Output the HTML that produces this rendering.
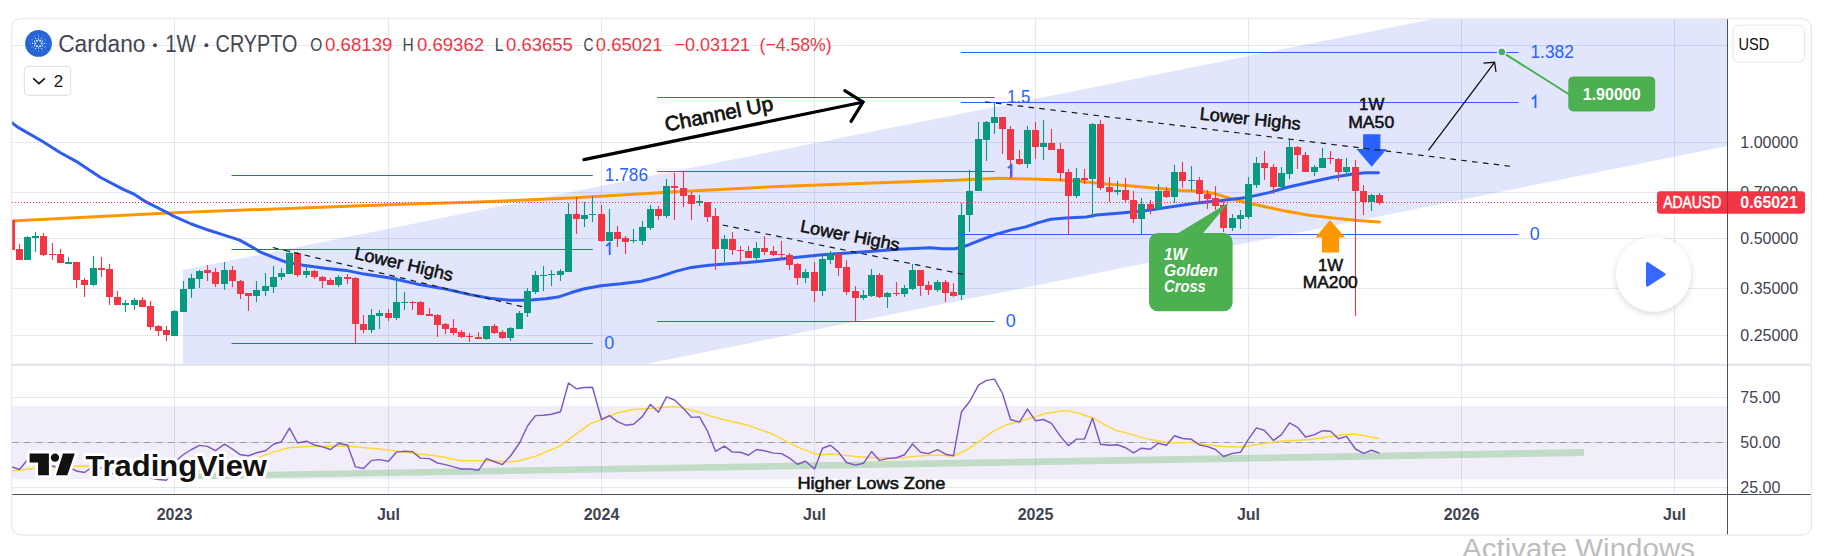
<!DOCTYPE html>
<html><head><meta charset="utf-8"><title>ADAUSD chart</title>
<style>html,body{margin:0;padding:0;background:#fff;}body{width:1842px;height:556px;overflow:hidden;position:relative;font-family:"Liberation Sans",sans-serif;}</style></head>
<body>
<svg width="1842" height="556" viewBox="0 0 1842 556" style="position:absolute;left:0;top:0" font-family="Liberation Sans, sans-serif">
<defs>
<clipPath id="frame"><rect x="11.6" y="18.6" width="1799.8000000000002" height="516.4" rx="9" ry="9"/></clipPath>
<clipPath id="main"><rect x="11.6" y="18.6" width="1715.9" height="346.2"/></clipPath>
<clipPath id="rsi"><rect x="11.6" y="364.8" width="1715.9" height="129.7"/></clipPath>
<filter id="sh" x="-30%" y="-30%" width="160%" height="160%"><feDropShadow dx="0" dy="2" stdDeviation="3.5" flood-color="#000" flood-opacity="0.16"/></filter>
</defs>
<rect x="0" y="0" width="1842" height="556" fill="#fff"/>
<g clip-path="url(#frame)">
<line x1="174.5" y1="18.6" x2="174.5" y2="494.5" stroke="#e1e9f2" stroke-width="1"/>
<line x1="388.5" y1="18.6" x2="388.5" y2="494.5" stroke="#e1e9f2" stroke-width="1"/>
<line x1="601.5" y1="18.6" x2="601.5" y2="494.5" stroke="#e1e9f2" stroke-width="1"/>
<line x1="814.5" y1="18.6" x2="814.5" y2="494.5" stroke="#e1e9f2" stroke-width="1"/>
<line x1="1035.5" y1="18.6" x2="1035.5" y2="494.5" stroke="#e1e9f2" stroke-width="1"/>
<line x1="1248.5" y1="18.6" x2="1248.5" y2="494.5" stroke="#e1e9f2" stroke-width="1"/>
<line x1="1461.5" y1="18.6" x2="1461.5" y2="494.5" stroke="#e1e9f2" stroke-width="1"/>
<line x1="1674.5" y1="18.6" x2="1674.5" y2="494.5" stroke="#e1e9f2" stroke-width="1"/>
<line x1="11.6" y1="45.5" x2="1727.5" y2="45.5" stroke="#e1e9f2" stroke-width="1"/>
<line x1="11.6" y1="142.5" x2="1727.5" y2="142.5" stroke="#e1e9f2" stroke-width="1"/>
<line x1="11.6" y1="192.5" x2="1727.5" y2="192.5" stroke="#e1e9f2" stroke-width="1"/>
<line x1="11.6" y1="238.5" x2="1727.5" y2="238.5" stroke="#e1e9f2" stroke-width="1"/>
<line x1="11.6" y1="288.5" x2="1727.5" y2="288.5" stroke="#e1e9f2" stroke-width="1"/>
<line x1="11.6" y1="335.5" x2="1727.5" y2="335.5" stroke="#e1e9f2" stroke-width="1"/>
<line x1="11.6" y1="397.5" x2="1727.5" y2="397.5" stroke="#e1e9f2" stroke-width="1"/>
<line x1="11.6" y1="442.5" x2="1727.5" y2="442.5" stroke="#e1e9f2" stroke-width="1"/>
<line x1="11.6" y1="487.5" x2="1727.5" y2="487.5" stroke="#e1e9f2" stroke-width="1"/>
<g clip-path="url(#main)">
<polygon points="183,270.0 1732.5,-41.2 1732.5,145.1 183,457.2" fill="#2040f0" fill-opacity="0.13"/>
<line x1="231.6" y1="175.5" x2="592.8" y2="175.5" stroke="#2962ff" stroke-width="1.2"/>
<line x1="231.6" y1="249.5" x2="592.8" y2="249.5" stroke="#2962ff" stroke-width="1.2"/>
<line x1="231.6" y1="343.5" x2="592.8" y2="343.5" stroke="#2962ff" stroke-width="1.2"/>
<text x="604.8" y="181.0" font-size="18" fill="#2962ff" textLength="43.2" lengthAdjust="spacingAndGlyphs">1.786</text>
<path d="M606.1,246.1 L609.7,243.0 L609.7,255.0" fill="none" stroke="#2962ff" stroke-width="1.8" stroke-linejoin="miter"/>
<text x="604.3" y="349.0" font-size="18" fill="#2962ff">0</text>
<path d="M11.0,220.9 L173.6,212.7 L261.8,209.4 L387.6,204.7 L470.0,202.3 L570.7,198.1 L671.4,192.1 L772.1,186.8 L872.8,183.0 L930.0,181.0 L955.2,180.3 L980.4,179.0 L1000.5,178.3 L1030.7,179.0 L1055.9,179.8 L1081.1,181.5 L1106.2,184.1 L1131.4,186.1 L1156.6,188.3 L1181.8,190.4 L1201.9,191.6 L1214.5,193.6 L1227.1,197.4 L1242.2,201.7 L1257.3,205.0 L1282.5,210.5 L1307.6,215.0 L1332.8,218.0 L1358.0,220.6 L1379.4,222.1" fill="none" stroke="#ff9800" stroke-width="3" stroke-linejoin="round" stroke-linecap="round"/>
<path d="M11.0,122.0 L17.6,127.1 L42.7,141.5 L60.4,152.8 L78.0,162.4 L100.6,177.5 L123.3,189.3 L133.4,193.8 L146.0,201.9 L166.1,212.0 L173.6,216.2 L191.3,224.0 L208.9,230.3 L226.5,235.9 L239.1,239.9 L255.5,249.0 L260.0,251.9 L273.0,257.1 L286.0,262.1 L303.0,265.2 L325.1,268.2 L346.0,270.4 L364.2,274.1 L390.3,278.0 L416.4,283.9 L442.4,288.4 L470.0,294.6 L490.0,298.3 L510.3,300.3 L527.9,300.3 L545.5,298.8 L558.0,297.1 L570.7,292.8 L583.3,289.0 L600.9,285.7 L621.0,283.7 L641.2,281.2 L658.8,276.9 L676.4,271.1 L691.5,267.4 L706.6,265.6 L721.7,264.3 L746.9,262.6 L772.1,260.1 L797.3,257.3 L822.5,254.8 L847.6,253.0 L872.8,251.2 L898.0,249.2 L930.0,247.8 L942.6,248.8 L955.2,248.8 L967.8,245.2 L980.4,240.2 L995.5,234.4 L1010.6,230.1 L1025.7,226.9 L1038.3,222.6 L1050.8,219.3 L1065.9,218.0 L1086.1,217.0 L1096.2,215.0 L1121.3,213.0 L1146.5,210.5 L1171.7,206.7 L1196.9,202.9 L1222.0,200.4 L1247.2,197.4 L1269.9,192.4 L1287.5,187.3 L1307.6,182.8 L1332.8,177.3 L1353.0,174.0 L1365.5,172.7 L1378.4,172.7" fill="none" stroke="#2f5cf0" stroke-width="3" stroke-linejoin="round" stroke-linecap="round"/>
<rect x="10.95" y="220" width="1.1" height="30" fill="#f23645"/>
<rect x="8.0" y="220" width="7" height="30" fill="#f23645"/>
<rect x="18.95" y="244" width="1.1" height="16" fill="#f23645"/>
<rect x="16.0" y="249" width="7" height="11" fill="#f23645"/>
<rect x="26.95" y="236" width="1.1" height="24" fill="#089981"/>
<rect x="24.0" y="237" width="7" height="23" fill="#089981"/>
<rect x="34.95" y="232" width="1.1" height="20" fill="#089981"/>
<rect x="32.0" y="236" width="7" height="2" fill="#089981"/>
<rect x="42.95" y="233" width="1.1" height="23" fill="#f23645"/>
<rect x="40.0" y="236" width="7" height="19" fill="#f23645"/>
<rect x="51.95" y="243" width="1.1" height="17" fill="#f23645"/>
<rect x="49.0" y="254" width="7" height="1" fill="#f23645"/>
<rect x="59.95" y="249" width="1.1" height="14" fill="#f23645"/>
<rect x="57.0" y="254" width="7" height="9" fill="#f23645"/>
<rect x="67.95" y="257" width="1.1" height="7" fill="#089981"/>
<rect x="65.0" y="262" width="7" height="2" fill="#089981"/>
<rect x="75.95" y="262" width="1.1" height="26" fill="#f23645"/>
<rect x="73.0" y="262" width="7" height="18" fill="#f23645"/>
<rect x="83.95" y="278" width="1.1" height="19" fill="#f23645"/>
<rect x="81.0" y="280" width="7" height="5" fill="#f23645"/>
<rect x="92.95" y="256" width="1.1" height="30" fill="#089981"/>
<rect x="90.0" y="268" width="7" height="17" fill="#089981"/>
<rect x="100.95" y="257" width="1.1" height="20" fill="#f23645"/>
<rect x="98.0" y="268" width="7" height="2" fill="#f23645"/>
<rect x="108.95" y="264" width="1.1" height="41" fill="#f23645"/>
<rect x="106.0" y="269" width="7" height="28" fill="#f23645"/>
<rect x="116.95" y="291" width="1.1" height="14" fill="#f23645"/>
<rect x="114.0" y="297" width="7" height="8" fill="#f23645"/>
<rect x="124.95" y="300" width="1.1" height="12" fill="#089981"/>
<rect x="122.0" y="303" width="7" height="2" fill="#089981"/>
<rect x="133.95" y="298" width="1.1" height="12" fill="#089981"/>
<rect x="131.0" y="300" width="7" height="5" fill="#089981"/>
<rect x="141.95" y="297" width="1.1" height="10" fill="#f23645"/>
<rect x="139.0" y="300" width="7" height="7" fill="#f23645"/>
<rect x="149.95" y="301" width="1.1" height="29" fill="#f23645"/>
<rect x="147.0" y="306" width="7" height="21" fill="#f23645"/>
<rect x="157.95" y="325" width="1.1" height="11" fill="#f23645"/>
<rect x="155.0" y="326" width="7" height="5" fill="#f23645"/>
<rect x="165.95" y="326" width="1.1" height="15" fill="#f23645"/>
<rect x="163.0" y="330" width="7" height="5" fill="#f23645"/>
<rect x="173.95" y="310" width="1.1" height="26" fill="#089981"/>
<rect x="171.0" y="311" width="7" height="25" fill="#089981"/>
<rect x="182.95" y="281" width="1.1" height="31" fill="#089981"/>
<rect x="180.0" y="289" width="7" height="23" fill="#089981"/>
<rect x="190.95" y="274" width="1.1" height="24" fill="#089981"/>
<rect x="188.0" y="278" width="7" height="11" fill="#089981"/>
<rect x="198.95" y="270" width="1.1" height="18" fill="#089981"/>
<rect x="196.0" y="271" width="7" height="8" fill="#089981"/>
<rect x="206.95" y="265" width="1.1" height="16" fill="#f23645"/>
<rect x="204.0" y="270" width="7" height="3" fill="#f23645"/>
<rect x="214.95" y="268" width="1.1" height="19" fill="#f23645"/>
<rect x="212.0" y="272" width="7" height="12" fill="#f23645"/>
<rect x="223.95" y="262" width="1.1" height="28" fill="#089981"/>
<rect x="221.0" y="270" width="7" height="14" fill="#089981"/>
<rect x="231.95" y="266" width="1.1" height="21" fill="#f23645"/>
<rect x="229.0" y="270" width="7" height="11" fill="#f23645"/>
<rect x="239.95" y="280" width="1.1" height="19" fill="#f23645"/>
<rect x="237.0" y="281" width="7" height="13" fill="#f23645"/>
<rect x="247.95" y="293" width="1.1" height="18" fill="#f23645"/>
<rect x="245.0" y="293" width="7" height="3" fill="#f23645"/>
<rect x="255.95" y="281" width="1.1" height="21" fill="#089981"/>
<rect x="253.0" y="290" width="7" height="6" fill="#089981"/>
<rect x="264.95" y="273" width="1.1" height="23" fill="#089981"/>
<rect x="262.0" y="286" width="7" height="5" fill="#089981"/>
<rect x="272.95" y="266" width="1.1" height="27" fill="#089981"/>
<rect x="270.0" y="277" width="7" height="10" fill="#089981"/>
<rect x="280.95" y="268" width="1.1" height="12" fill="#089981"/>
<rect x="278.0" y="273" width="7" height="4" fill="#089981"/>
<rect x="288.95" y="250" width="1.1" height="24" fill="#089981"/>
<rect x="286.0" y="253" width="7" height="21" fill="#089981"/>
<rect x="296.95" y="252" width="1.1" height="25" fill="#f23645"/>
<rect x="294.0" y="253" width="7" height="22" fill="#f23645"/>
<rect x="305.95" y="264" width="1.1" height="14" fill="#089981"/>
<rect x="303.0" y="271" width="7" height="4" fill="#089981"/>
<rect x="313.95" y="270" width="1.1" height="9" fill="#f23645"/>
<rect x="311.0" y="271" width="7" height="6" fill="#f23645"/>
<rect x="321.95" y="276" width="1.1" height="12" fill="#f23645"/>
<rect x="319.0" y="277" width="7" height="4" fill="#f23645"/>
<rect x="329.95" y="278" width="1.1" height="7" fill="#f23645"/>
<rect x="327.0" y="280" width="7" height="5" fill="#f23645"/>
<rect x="337.95" y="275" width="1.1" height="12" fill="#089981"/>
<rect x="335.0" y="277" width="7" height="8" fill="#089981"/>
<rect x="346.95" y="274" width="1.1" height="10" fill="#f23645"/>
<rect x="344.0" y="277" width="7" height="2" fill="#f23645"/>
<rect x="354.95" y="277" width="1.1" height="66" fill="#f23645"/>
<rect x="352.0" y="278" width="7" height="46" fill="#f23645"/>
<rect x="362.95" y="315" width="1.1" height="18" fill="#f23645"/>
<rect x="360.0" y="324" width="7" height="6" fill="#f23645"/>
<rect x="370.95" y="309" width="1.1" height="24" fill="#089981"/>
<rect x="368.0" y="315" width="7" height="15" fill="#089981"/>
<rect x="378.95" y="310" width="1.1" height="19" fill="#089981"/>
<rect x="376.0" y="313" width="7" height="3" fill="#089981"/>
<rect x="387.95" y="309" width="1.1" height="12" fill="#f23645"/>
<rect x="385.0" y="313" width="7" height="5" fill="#f23645"/>
<rect x="395.95" y="277" width="1.1" height="43" fill="#089981"/>
<rect x="393.0" y="302" width="7" height="16" fill="#089981"/>
<rect x="403.95" y="292" width="1.1" height="18" fill="#089981"/>
<rect x="401.0" y="302" width="7" height="1" fill="#089981"/>
<rect x="411.95" y="301" width="1.1" height="9" fill="#f23645"/>
<rect x="409.0" y="302" width="7" height="1" fill="#f23645"/>
<rect x="419.95" y="301" width="1.1" height="14" fill="#f23645"/>
<rect x="417.0" y="302" width="7" height="13" fill="#f23645"/>
<rect x="428.95" y="308" width="1.1" height="8" fill="#f23645"/>
<rect x="426.0" y="314" width="7" height="2" fill="#f23645"/>
<rect x="436.95" y="314" width="1.1" height="23" fill="#f23645"/>
<rect x="434.0" y="315" width="7" height="10" fill="#f23645"/>
<rect x="444.95" y="323" width="1.1" height="11" fill="#f23645"/>
<rect x="442.0" y="324" width="7" height="5" fill="#f23645"/>
<rect x="452.95" y="319" width="1.1" height="16" fill="#f23645"/>
<rect x="450.0" y="328" width="7" height="5" fill="#f23645"/>
<rect x="460.95" y="330" width="1.1" height="8" fill="#f23645"/>
<rect x="458.0" y="332" width="7" height="5" fill="#f23645"/>
<rect x="468.95" y="333" width="1.1" height="9" fill="#f23645"/>
<rect x="466.0" y="336" width="7" height="1" fill="#f23645"/>
<rect x="477.95" y="332" width="1.1" height="7" fill="#f23645"/>
<rect x="475.0" y="337" width="7" height="2" fill="#f23645"/>
<rect x="485.95" y="326" width="1.1" height="14" fill="#089981"/>
<rect x="483.0" y="326" width="7" height="13" fill="#089981"/>
<rect x="493.95" y="324" width="1.1" height="10" fill="#f23645"/>
<rect x="491.0" y="326" width="7" height="7" fill="#f23645"/>
<rect x="501.95" y="330" width="1.1" height="9" fill="#f23645"/>
<rect x="499.0" y="332" width="7" height="6" fill="#f23645"/>
<rect x="509.95" y="327" width="1.1" height="14" fill="#089981"/>
<rect x="507.0" y="328" width="7" height="10" fill="#089981"/>
<rect x="518.95" y="311" width="1.1" height="18" fill="#089981"/>
<rect x="516.0" y="313" width="7" height="16" fill="#089981"/>
<rect x="526.95" y="288" width="1.1" height="29" fill="#089981"/>
<rect x="524.0" y="291" width="7" height="22" fill="#089981"/>
<rect x="534.95" y="271" width="1.1" height="23" fill="#089981"/>
<rect x="532.0" y="275" width="7" height="17" fill="#089981"/>
<rect x="542.95" y="266" width="1.1" height="25" fill="#089981"/>
<rect x="540.0" y="275" width="7" height="1" fill="#089981"/>
<rect x="550.95" y="270" width="1.1" height="16" fill="#089981"/>
<rect x="548.0" y="274" width="7" height="1" fill="#089981"/>
<rect x="559.95" y="269" width="1.1" height="12" fill="#089981"/>
<rect x="557.0" y="271" width="7" height="4" fill="#089981"/>
<rect x="567.95" y="203" width="1.1" height="69" fill="#089981"/>
<rect x="565.0" y="214" width="7" height="58" fill="#089981"/>
<rect x="575.95" y="197" width="1.1" height="37" fill="#f23645"/>
<rect x="573.0" y="214" width="7" height="5" fill="#f23645"/>
<rect x="583.95" y="202" width="1.1" height="25" fill="#089981"/>
<rect x="581.0" y="215" width="7" height="4" fill="#089981"/>
<rect x="591.95" y="196" width="1.1" height="26" fill="#089981"/>
<rect x="589.0" y="214" width="7" height="1" fill="#089981"/>
<rect x="600.95" y="205" width="1.1" height="37" fill="#f23645"/>
<rect x="598.0" y="214" width="7" height="27" fill="#f23645"/>
<rect x="608.95" y="209" width="1.1" height="32" fill="#089981"/>
<rect x="606.0" y="232" width="7" height="9" fill="#089981"/>
<rect x="616.95" y="226" width="1.1" height="21" fill="#f23645"/>
<rect x="614.0" y="232" width="7" height="7" fill="#f23645"/>
<rect x="624.95" y="236" width="1.1" height="18" fill="#f23645"/>
<rect x="622.0" y="238" width="7" height="4" fill="#f23645"/>
<rect x="632.95" y="229" width="1.1" height="14" fill="#089981"/>
<rect x="630.0" y="240" width="7" height="1" fill="#089981"/>
<rect x="641.95" y="221" width="1.1" height="24" fill="#089981"/>
<rect x="639.0" y="227" width="7" height="14" fill="#089981"/>
<rect x="649.95" y="205" width="1.1" height="25" fill="#089981"/>
<rect x="647.0" y="209" width="7" height="19" fill="#089981"/>
<rect x="657.95" y="206" width="1.1" height="14" fill="#f23645"/>
<rect x="655.0" y="209" width="7" height="7" fill="#f23645"/>
<rect x="665.95" y="179" width="1.1" height="39" fill="#089981"/>
<rect x="663.0" y="186" width="7" height="30" fill="#089981"/>
<rect x="673.95" y="173" width="1.1" height="47" fill="#f23645"/>
<rect x="671.0" y="186" width="7" height="2" fill="#f23645"/>
<rect x="682.95" y="172" width="1.1" height="35" fill="#f23645"/>
<rect x="680.0" y="188" width="7" height="8" fill="#f23645"/>
<rect x="690.95" y="192" width="1.1" height="28" fill="#f23645"/>
<rect x="688.0" y="195" width="7" height="9" fill="#f23645"/>
<rect x="698.95" y="195" width="1.1" height="11" fill="#089981"/>
<rect x="696.0" y="201" width="7" height="2" fill="#089981"/>
<rect x="706.95" y="202" width="1.1" height="20" fill="#f23645"/>
<rect x="704.0" y="202" width="7" height="15" fill="#f23645"/>
<rect x="714.95" y="208" width="1.1" height="62" fill="#f23645"/>
<rect x="712.0" y="216" width="7" height="33" fill="#f23645"/>
<rect x="723.95" y="235" width="1.1" height="27" fill="#089981"/>
<rect x="721.0" y="239" width="7" height="10" fill="#089981"/>
<rect x="731.95" y="232" width="1.1" height="23" fill="#f23645"/>
<rect x="729.0" y="239" width="7" height="11" fill="#f23645"/>
<rect x="739.95" y="246" width="1.1" height="17" fill="#f23645"/>
<rect x="737.0" y="250" width="7" height="1" fill="#f23645"/>
<rect x="747.95" y="246" width="1.1" height="12" fill="#f23645"/>
<rect x="745.0" y="251" width="7" height="7" fill="#f23645"/>
<rect x="755.95" y="242" width="1.1" height="19" fill="#089981"/>
<rect x="753.0" y="248" width="7" height="10" fill="#089981"/>
<rect x="763.95" y="236" width="1.1" height="19" fill="#f23645"/>
<rect x="761.0" y="248" width="7" height="4" fill="#f23645"/>
<rect x="772.95" y="246" width="1.1" height="10" fill="#f23645"/>
<rect x="770.0" y="251" width="7" height="4" fill="#f23645"/>
<rect x="780.95" y="241" width="1.1" height="19" fill="#f23645"/>
<rect x="778.0" y="254" width="7" height="1" fill="#f23645"/>
<rect x="788.95" y="253" width="1.1" height="17" fill="#f23645"/>
<rect x="786.0" y="255" width="7" height="10" fill="#f23645"/>
<rect x="796.95" y="263" width="1.1" height="22" fill="#f23645"/>
<rect x="794.0" y="264" width="7" height="14" fill="#f23645"/>
<rect x="804.95" y="269" width="1.1" height="14" fill="#089981"/>
<rect x="802.0" y="272" width="7" height="6" fill="#089981"/>
<rect x="813.95" y="262" width="1.1" height="40" fill="#f23645"/>
<rect x="811.0" y="272" width="7" height="19" fill="#f23645"/>
<rect x="821.95" y="255" width="1.1" height="41" fill="#089981"/>
<rect x="819.0" y="259" width="7" height="32" fill="#089981"/>
<rect x="829.95" y="251" width="1.1" height="13" fill="#089981"/>
<rect x="827.0" y="254" width="7" height="6" fill="#089981"/>
<rect x="837.95" y="253" width="1.1" height="23" fill="#f23645"/>
<rect x="835.0" y="254" width="7" height="14" fill="#f23645"/>
<rect x="845.95" y="260" width="1.1" height="35" fill="#f23645"/>
<rect x="843.0" y="267" width="7" height="25" fill="#f23645"/>
<rect x="854.95" y="286" width="1.1" height="35" fill="#f23645"/>
<rect x="852.0" y="291" width="7" height="7" fill="#f23645"/>
<rect x="862.95" y="290" width="1.1" height="10" fill="#089981"/>
<rect x="860.0" y="295" width="7" height="3" fill="#089981"/>
<rect x="870.95" y="269" width="1.1" height="28" fill="#089981"/>
<rect x="868.0" y="275" width="7" height="21" fill="#089981"/>
<rect x="878.95" y="273" width="1.1" height="25" fill="#f23645"/>
<rect x="876.0" y="275" width="7" height="22" fill="#f23645"/>
<rect x="886.95" y="292" width="1.1" height="16" fill="#089981"/>
<rect x="884.0" y="293" width="7" height="4" fill="#089981"/>
<rect x="895.95" y="282" width="1.1" height="14" fill="#f23645"/>
<rect x="893.0" y="293" width="7" height="1" fill="#f23645"/>
<rect x="903.95" y="285" width="1.1" height="12" fill="#089981"/>
<rect x="901.0" y="288" width="7" height="6" fill="#089981"/>
<rect x="911.95" y="264" width="1.1" height="26" fill="#089981"/>
<rect x="909.0" y="270" width="7" height="19" fill="#089981"/>
<rect x="919.95" y="270" width="1.1" height="26" fill="#f23645"/>
<rect x="917.0" y="270" width="7" height="16" fill="#f23645"/>
<rect x="927.95" y="281" width="1.1" height="14" fill="#f23645"/>
<rect x="925.0" y="285" width="7" height="5" fill="#f23645"/>
<rect x="936.95" y="280" width="1.1" height="12" fill="#089981"/>
<rect x="934.0" y="282" width="7" height="8" fill="#089981"/>
<rect x="944.95" y="280" width="1.1" height="22" fill="#f23645"/>
<rect x="942.0" y="282" width="7" height="11" fill="#f23645"/>
<rect x="952.95" y="283" width="1.1" height="14" fill="#f23645"/>
<rect x="950.0" y="292" width="7" height="4" fill="#f23645"/>
<rect x="960.95" y="203" width="1.1" height="97" fill="#089981"/>
<rect x="958.0" y="215" width="7" height="80" fill="#089981"/>
<rect x="968.95" y="170" width="1.1" height="62" fill="#089981"/>
<rect x="966.0" y="191" width="7" height="24" fill="#089981"/>
<rect x="977.95" y="122" width="1.1" height="69" fill="#089981"/>
<rect x="975.0" y="139" width="7" height="52" fill="#089981"/>
<rect x="985.95" y="121" width="1.1" height="40" fill="#089981"/>
<rect x="983.0" y="122" width="7" height="18" fill="#089981"/>
<rect x="993.95" y="102" width="1.1" height="32" fill="#089981"/>
<rect x="991.0" y="117" width="7" height="6" fill="#089981"/>
<rect x="1001.95" y="117" width="1.1" height="37" fill="#f23645"/>
<rect x="999.0" y="117" width="7" height="12" fill="#f23645"/>
<rect x="1009.95" y="126" width="1.1" height="53" fill="#f23645"/>
<rect x="1007.0" y="129" width="7" height="31" fill="#f23645"/>
<rect x="1018.95" y="150" width="1.1" height="15" fill="#f23645"/>
<rect x="1016.0" y="159" width="7" height="5" fill="#f23645"/>
<rect x="1026.95" y="126" width="1.1" height="42" fill="#089981"/>
<rect x="1024.0" y="130" width="7" height="34" fill="#089981"/>
<rect x="1034.95" y="122" width="1.1" height="37" fill="#f23645"/>
<rect x="1032.0" y="130" width="7" height="17" fill="#f23645"/>
<rect x="1042.95" y="120" width="1.1" height="40" fill="#089981"/>
<rect x="1040.0" y="143" width="7" height="4" fill="#089981"/>
<rect x="1050.95" y="129" width="1.1" height="21" fill="#f23645"/>
<rect x="1048.0" y="143" width="7" height="7" fill="#f23645"/>
<rect x="1059.95" y="143" width="1.1" height="38" fill="#f23645"/>
<rect x="1057.0" y="149" width="7" height="24" fill="#f23645"/>
<rect x="1067.95" y="169" width="1.1" height="65" fill="#f23645"/>
<rect x="1065.0" y="172" width="7" height="24" fill="#f23645"/>
<rect x="1075.95" y="168" width="1.1" height="30" fill="#089981"/>
<rect x="1073.0" y="178" width="7" height="18" fill="#089981"/>
<rect x="1083.95" y="169" width="1.1" height="15" fill="#f23645"/>
<rect x="1081.0" y="178" width="7" height="2" fill="#f23645"/>
<rect x="1091.95" y="123" width="1.1" height="95" fill="#089981"/>
<rect x="1089.0" y="124" width="7" height="55" fill="#089981"/>
<rect x="1099.95" y="120" width="1.1" height="70" fill="#f23645"/>
<rect x="1097.0" y="124" width="7" height="64" fill="#f23645"/>
<rect x="1108.95" y="177" width="1.1" height="25" fill="#f23645"/>
<rect x="1106.0" y="187" width="7" height="5" fill="#f23645"/>
<rect x="1116.95" y="181" width="1.1" height="14" fill="#089981"/>
<rect x="1114.0" y="190" width="7" height="2" fill="#089981"/>
<rect x="1124.95" y="178" width="1.1" height="24" fill="#f23645"/>
<rect x="1122.0" y="190" width="7" height="10" fill="#f23645"/>
<rect x="1132.95" y="191" width="1.1" height="32" fill="#f23645"/>
<rect x="1130.0" y="200" width="7" height="19" fill="#f23645"/>
<rect x="1140.95" y="198" width="1.1" height="36" fill="#089981"/>
<rect x="1138.0" y="204" width="7" height="15" fill="#089981"/>
<rect x="1149.95" y="200" width="1.1" height="14" fill="#f23645"/>
<rect x="1147.0" y="204" width="7" height="5" fill="#f23645"/>
<rect x="1157.95" y="184" width="1.1" height="26" fill="#089981"/>
<rect x="1155.0" y="191" width="7" height="18" fill="#089981"/>
<rect x="1165.95" y="187" width="1.1" height="11" fill="#f23645"/>
<rect x="1163.0" y="191" width="7" height="6" fill="#f23645"/>
<rect x="1173.95" y="165" width="1.1" height="38" fill="#089981"/>
<rect x="1171.0" y="172" width="7" height="25" fill="#089981"/>
<rect x="1181.95" y="162" width="1.1" height="26" fill="#f23645"/>
<rect x="1179.0" y="172" width="7" height="9" fill="#f23645"/>
<rect x="1190.95" y="166" width="1.1" height="25" fill="#089981"/>
<rect x="1188.0" y="180" width="7" height="1" fill="#089981"/>
<rect x="1198.95" y="177" width="1.1" height="25" fill="#f23645"/>
<rect x="1196.0" y="180" width="7" height="14" fill="#f23645"/>
<rect x="1206.95" y="190" width="1.1" height="19" fill="#f23645"/>
<rect x="1204.0" y="194" width="7" height="5" fill="#f23645"/>
<rect x="1214.95" y="186" width="1.1" height="24" fill="#f23645"/>
<rect x="1212.0" y="198" width="7" height="8" fill="#f23645"/>
<rect x="1222.95" y="200" width="1.1" height="32" fill="#f23645"/>
<rect x="1220.0" y="205" width="7" height="23" fill="#f23645"/>
<rect x="1231.95" y="214" width="1.1" height="17" fill="#089981"/>
<rect x="1229.0" y="218" width="7" height="10" fill="#089981"/>
<rect x="1239.95" y="210" width="1.1" height="19" fill="#089981"/>
<rect x="1237.0" y="215" width="7" height="4" fill="#089981"/>
<rect x="1247.95" y="177" width="1.1" height="42" fill="#089981"/>
<rect x="1245.0" y="184" width="7" height="33" fill="#089981"/>
<rect x="1255.95" y="157" width="1.1" height="31" fill="#089981"/>
<rect x="1253.0" y="163" width="7" height="22" fill="#089981"/>
<rect x="1263.95" y="151" width="1.1" height="29" fill="#f23645"/>
<rect x="1261.0" y="163" width="7" height="5" fill="#f23645"/>
<rect x="1272.95" y="164" width="1.1" height="30" fill="#f23645"/>
<rect x="1270.0" y="167" width="7" height="20" fill="#f23645"/>
<rect x="1280.95" y="167" width="1.1" height="22" fill="#089981"/>
<rect x="1278.0" y="173" width="7" height="14" fill="#089981"/>
<rect x="1288.95" y="139" width="1.1" height="40" fill="#089981"/>
<rect x="1286.0" y="147" width="7" height="27" fill="#089981"/>
<rect x="1296.95" y="146" width="1.1" height="23" fill="#f23645"/>
<rect x="1294.0" y="147" width="7" height="8" fill="#f23645"/>
<rect x="1304.95" y="152" width="1.1" height="20" fill="#f23645"/>
<rect x="1302.0" y="155" width="7" height="17" fill="#f23645"/>
<rect x="1313.95" y="165" width="1.1" height="11" fill="#089981"/>
<rect x="1311.0" y="167" width="7" height="5" fill="#089981"/>
<rect x="1321.95" y="148" width="1.1" height="20" fill="#089981"/>
<rect x="1319.0" y="158" width="7" height="10" fill="#089981"/>
<rect x="1329.95" y="151" width="1.1" height="13" fill="#f23645"/>
<rect x="1327.0" y="158" width="7" height="1" fill="#f23645"/>
<rect x="1337.95" y="158" width="1.1" height="23" fill="#f23645"/>
<rect x="1335.0" y="159" width="7" height="13" fill="#f23645"/>
<rect x="1345.95" y="158" width="1.1" height="19" fill="#089981"/>
<rect x="1343.0" y="167" width="7" height="5" fill="#089981"/>
<rect x="1354.95" y="160" width="1.1" height="156" fill="#f23645"/>
<rect x="1352.0" y="167" width="7" height="24" fill="#f23645"/>
<rect x="1362.95" y="185" width="1.1" height="30" fill="#f23645"/>
<rect x="1360.0" y="191" width="7" height="11" fill="#f23645"/>
<rect x="1370.95" y="194" width="1.1" height="17" fill="#089981"/>
<rect x="1368.0" y="195" width="7" height="7" fill="#089981"/>
<rect x="1378.95" y="193" width="1.1" height="12" fill="#f23645"/>
<rect x="1376.0" y="195" width="7" height="8" fill="#f23645"/>
<line x1="12" y1="202.5" x2="1660" y2="202.5" stroke="#f23645" stroke-width="1" stroke-dasharray="1 2" shape-rendering="crispEdges"/>
<line x1="657.1" y1="97.5" x2="994.6" y2="97.5" stroke="#2962ff" stroke-width="1.2"/>
<line x1="657.1" y1="171.5" x2="994.6" y2="171.5" stroke="#2962ff" stroke-width="1.2"/>
<line x1="657.1" y1="321.5" x2="994.6" y2="321.5" stroke="#2962ff" stroke-width="1.2"/>
<line x1="960.8" y1="52.5" x2="1518.5" y2="52.5" stroke="#2962ff" stroke-width="1.2"/>
<line x1="960.8" y1="102.5" x2="1518.5" y2="102.5" stroke="#2962ff" stroke-width="1.2"/>
<line x1="960.8" y1="234.5" x2="1518.5" y2="234.5" stroke="#2962ff" stroke-width="1.2"/>
<text x="1007" y="103.0" font-size="18" fill="#2962ff" textLength="23.5" lengthAdjust="spacingAndGlyphs">1.5</text>
<path d="M1007.9,168.1 L1011.5,165.0 L1011.5,177.0" fill="none" stroke="#2962ff" stroke-width="1.8" stroke-linejoin="miter"/>
<text x="1005.8" y="327.0" font-size="18" fill="#2962ff">0</text>
<text x="1530.5" y="58.0" font-size="18" fill="#2962ff" textLength="43.3" lengthAdjust="spacingAndGlyphs">1.382</text>
<path d="M1531.9,99.1 L1535.5,96.0 L1535.5,108.0" fill="none" stroke="#2962ff" stroke-width="1.8" stroke-linejoin="miter"/>
<text x="1529.8" y="240.0" font-size="18" fill="#2962ff">0</text>
<text transform="translate(353.7,258.4) rotate(13)" font-size="17.5" font-weight="400" fill="#111" stroke="#111" stroke-width="0.55" letter-spacing="0" textLength="100.5" lengthAdjust="spacingAndGlyphs">Lower Highs</text>
<text transform="translate(799.4,231.6) rotate(11)" font-size="17.5" font-weight="400" fill="#111" stroke="#111" stroke-width="0.55" letter-spacing="0" textLength="101" lengthAdjust="spacingAndGlyphs">Lower Highs</text>
<text transform="translate(1199.2,119.5) rotate(5.9)" font-size="17.5" font-weight="400" fill="#111" stroke="#111" stroke-width="0.55" letter-spacing="0" textLength="101.5" lengthAdjust="spacingAndGlyphs">Lower Highs</text>
<text transform="translate(666.3,131.4) rotate(-11.2)" font-size="20.5" font-weight="400" fill="#111" stroke="#111" stroke-width="0.7" letter-spacing="0" textLength="110" lengthAdjust="spacingAndGlyphs">Channel Up</text>
<path d="M583.9,159.6 L862.5,102.2" stroke="#000" stroke-width="3.2" stroke-linecap="round" fill="none"/>
<path d="M844.8,90.6 L863,102.1 L851.1,121.3" stroke="#000" stroke-width="3.2" stroke-linecap="round" stroke-linejoin="miter" fill="none"/>
<path d="M1428.4,150.4 L1494.6,62.3" stroke="#111" stroke-width="1.3" fill="none"/>
<path d="M1483.4,63.2 L1494.6,62.3 L1496,71.8" stroke="#111" stroke-width="1.3" fill="none"/>
<text x="1371.7" y="109.8" font-size="16.8" fill="#111" stroke="#111" stroke-width="0.55" text-anchor="middle">1W</text>
<text x="1371.2" y="127.9" font-size="16.8" fill="#111" stroke="#111" stroke-width="0.55" text-anchor="middle" textLength="46" lengthAdjust="spacingAndGlyphs">MA50</text>
<polygon points="1363.1,134.2 1380.4,134.2 1380.4,148.9 1386.7,148.9 1371.7,166.8 1356.5,148.9 1363.1,148.9" fill="#2962ff"/>
<polygon points="1330,219.9 1345.3,237.5 1339,237.5 1339,252.4 1321.9,252.4 1321.9,237.5 1315.4,237.5" fill="#ff9800"/>
<text x="1330.5" y="270.6" font-size="16.8" fill="#111" stroke="#111" stroke-width="0.55" text-anchor="middle">1W</text>
<text x="1330.2" y="288.3" font-size="16.8" fill="#111" stroke="#111" stroke-width="0.55" text-anchor="middle" textLength="55" lengthAdjust="spacingAndGlyphs">MA200</text>
<line x1="272.8" y1="247.5" x2="524.7" y2="307.2" stroke="#1a1a1a" stroke-width="1.2" stroke-dasharray="5.6 5.3"/>
<line x1="722.7" y1="225" x2="965.3" y2="274.8" stroke="#1a1a1a" stroke-width="1.2" stroke-dasharray="5.6 5.3"/>
<line x1="985.2" y1="101.8" x2="1510.7" y2="166.3" stroke="#1a1a1a" stroke-width="1.2" stroke-dasharray="5.6 5.3"/>
<path d="M1177.5,233.5 L1229,202.2 L1202.8,233.5 Z" fill="#4caf50"/>
<rect x="1149" y="232.9" width="83.6" height="78.4" rx="9" ry="9" fill="#4caf50"/>
<text x="1164" y="260.1" font-size="16" font-weight="700" font-style="italic" fill="#fff" textLength="23" lengthAdjust="spacingAndGlyphs">1W</text>
<text x="1164" y="276.3" font-size="16" font-weight="700" font-style="italic" fill="#fff" textLength="53.8" lengthAdjust="spacingAndGlyphs">Golden</text>
<text x="1164" y="292.2" font-size="16" font-weight="700" font-style="italic" fill="#fff" textLength="41.8" lengthAdjust="spacingAndGlyphs">Cross</text>
<line x1="1501.8" y1="51.9" x2="1570" y2="95" stroke="#4caf50" stroke-width="2"/>
<circle cx="1501.8" cy="51.9" r="4" fill="#4caf50" stroke="#fff" stroke-width="1.3"/>
<rect x="1568.3" y="76.4" width="86.9" height="35.1" rx="5" ry="5" fill="#4caf50"/>
<text x="1611.7" y="99.8" font-size="16" font-weight="700" fill="#fff" text-anchor="middle">1.90000</text>
</g>
<g clip-path="url(#rsi)">
<rect x="11.6" y="405.8" width="1715.9" height="73.4" fill="#7e57c2" fill-opacity="0.1"/>
<line x1="11.6" y1="442.5" x2="1727.5" y2="442.5" stroke="#9a9da6" stroke-width="1" stroke-dasharray="7 5"/>
<polygon points="196,479.3 196,472.95 1583.9,449 1583.9,456" fill="#4caf50" fill-opacity="0.30"/>
<path d="M11.7,471.0 L33.9,468.4 L75.6,466.3 L88.0,466.0 L120.0,469.0 L150.0,472.0 L175.0,474.0 L200.0,471.0 L230.0,464.0 L258.5,457.6 L273.0,452.1 L288.7,447.7 L305.6,446.4 L346.0,446.1 L377.3,448.7 L416.4,453.4 L442.4,456.8 L460.7,460.7 L484.1,460.7 L510.2,461.7 L518.0,461.2 L536.2,456.0 L559.7,446.1 L572.7,436.4 L590.9,423.4 L600.3,420.0 L617.0,413.0 L632.6,409.6 L650.9,408.6 L673.0,406.5 L682.1,407.8 L700.4,412.5 L710.8,416.1 L720.0,418.7 L746.1,424.7 L772.1,433.8 L798.2,447.4 L813.8,453.4 L821.6,454.7 L832.1,453.9 L855.5,456.5 L876.4,457.8 L902.4,457.8 L912.8,456.5 L928.5,455.2 L941.5,455.2 L953.2,456.0 L965.0,450.8 L980.6,440.4 L993.6,431.2 L1006.6,424.7 L1019.7,421.3 L1032.7,417.4 L1045.7,413.5 L1058.8,411.2 L1067.9,410.7 L1079.6,413.5 L1092.6,417.7 L1103.1,423.9 L1116.1,430.5 L1126.5,433.1 L1147.4,439.1 L1163.0,441.7 L1173.4,443.0 L1180.0,442.4 L1193.0,442.4 L1206.1,444.8 L1224.3,446.4 L1239.9,447.1 L1247.8,446.1 L1266.0,443.0 L1284.2,441.1 L1310.3,439.6 L1325.9,437.2 L1344.2,434.4 L1354.6,434.1 L1367.6,436.2 L1379.3,438.8" fill="none" stroke="#fdd835" stroke-width="1.5" stroke-linejoin="round"/>
<path d="M11.5,466.8 L19.5,469.5 L27.5,459.8 L35.5,458.0 L43.5,462.0 L52.5,466.0 L60.5,468.0 L68.5,467.0 L76.5,471.0 L84.5,472.5 L93.5,466.0 L101.5,468.0 L109.5,473.0 L117.5,474.5 L125.5,474.0 L134.5,473.0 L142.5,474.0 L150.5,478.0 L158.5,479.5 L166.5,480.2 L174.5,462.0 L183.5,454.5 L191.5,449.5 L199.5,445.4 L207.5,446.4 L215.5,450.6 L224.5,444.2 L232.5,449.2 L240.5,454.8 L248.5,455.8 L256.5,452.8 L265.5,450.8 L273.5,444.3 L281.5,441.7 L289.5,428.1 L297.5,443.0 L306.5,441.1 L314.5,445.0 L322.5,446.9 L330.5,449.5 L338.5,443.5 L347.5,445.0 L355.5,466.9 L363.5,468.5 L371.5,460.4 L379.5,459.6 L388.5,461.2 L396.5,452.1 L404.5,451.3 L412.5,451.8 L420.5,458.1 L429.5,458.6 L437.5,463.0 L445.5,464.6 L453.5,466.9 L461.5,469.0 L469.5,469.0 L478.5,470.3 L486.5,458.6 L494.5,461.7 L502.5,464.6 L510.5,456.0 L519.5,443.0 L527.5,426.0 L535.5,415.6 L543.5,415.3 L551.5,414.3 L560.5,411.7 L568.5,383.0 L576.5,388.8 L584.5,387.5 L592.5,387.2 L601.5,419.5 L609.5,415.6 L617.5,421.6 L625.5,425.2 L633.5,424.2 L642.5,416.4 L650.5,404.4 L658.5,412.2 L666.5,396.8 L674.5,400.0 L683.5,408.6 L691.5,417.4 L699.5,416.9 L707.5,431.2 L715.5,451.3 L724.5,446.1 L732.5,452.1 L740.5,452.3 L748.5,455.2 L756.5,449.5 L764.5,450.8 L773.5,453.1 L781.5,453.6 L789.5,458.1 L797.5,464.3 L805.5,461.2 L814.5,469.0 L822.5,448.2 L830.5,445.3 L838.5,452.1 L846.5,462.5 L855.5,465.1 L863.5,463.3 L871.5,451.6 L879.5,460.4 L887.5,458.6 L896.5,457.8 L904.5,454.7 L912.5,444.0 L920.5,452.3 L928.5,453.6 L937.5,449.7 L945.5,454.2 L953.5,455.7 L961.5,411.7 L969.5,401.8 L978.5,385.1 L986.5,380.4 L994.5,379.1 L1002.5,393.5 L1010.5,419.5 L1019.5,422.1 L1027.5,409.1 L1035.5,420.8 L1043.5,419.5 L1051.5,423.4 L1060.5,436.4 L1068.5,445.8 L1076.5,439.1 L1084.5,439.1 L1092.5,418.2 L1100.5,444.3 L1109.5,445.3 L1117.5,444.8 L1125.5,447.7 L1133.5,452.9 L1141.5,448.2 L1150.5,449.2 L1158.5,443.2 L1166.5,445.3 L1174.5,435.7 L1182.5,438.5 L1191.5,439.3 L1199.5,445.0 L1207.5,446.6 L1215.5,449.5 L1223.5,456.5 L1232.5,453.4 L1240.5,452.3 L1248.5,439.1 L1256.5,427.9 L1264.5,430.5 L1273.5,440.4 L1281.5,434.6 L1289.5,422.9 L1297.5,427.3 L1305.5,437.0 L1314.5,434.6 L1322.5,430.7 L1330.5,431.2 L1338.5,438.8 L1346.5,436.4 L1355.5,449.0 L1363.5,453.4 L1371.5,450.3 L1379.5,453.1" fill="none" stroke="#7e57c2" stroke-width="1.45" stroke-linejoin="round"/>
</g>
<text x="797.4" y="488.6" font-size="16.8" fill="#111" stroke="#111" stroke-width="0.55" textLength="148" lengthAdjust="spacingAndGlyphs">Higher Lows Zone</text>
<rect x="11.6" y="363.8" width="1799.8000000000002" height="2" fill="#e0e3eb"/>
<line x1="1727.5" y1="18.6" x2="1727.5" y2="535" stroke="#4c4f5c" stroke-width="1"/>
<line x1="11.6" y1="494.5" x2="1811.4" y2="494.5" stroke="#4c4f5c" stroke-width="1"/>
<text x="1740.3" y="148.10000000000002" font-size="16" fill="#3f4350">1.00000</text>
<text x="1740.3" y="197.8" font-size="16" fill="#3f4350">0.70000</text>
<text x="1740.3" y="244.0" font-size="16" fill="#3f4350">0.50000</text>
<text x="1740.3" y="293.8" font-size="16" fill="#3f4350">0.35000</text>
<text x="1740.3" y="340.8" font-size="16" fill="#3f4350">0.25000</text>
<text x="1740.3" y="403.1" font-size="16" fill="#3f4350">75.00</text>
<text x="1740.3" y="448.2" font-size="16" fill="#3f4350">50.00</text>
<text x="1740.3" y="493.2" font-size="16" fill="#3f4350">25.00</text>
<text x="174.5" y="520" font-size="16" font-weight="700" fill="#3f4350" text-anchor="middle">2023</text>
<text x="388.5" y="520" font-size="16" font-weight="700" fill="#3f4350" text-anchor="middle">Jul</text>
<text x="601.5" y="520" font-size="16" font-weight="700" fill="#3f4350" text-anchor="middle">2024</text>
<text x="814.5" y="520" font-size="16" font-weight="700" fill="#3f4350" text-anchor="middle">Jul</text>
<text x="1035.5" y="520" font-size="16" font-weight="700" fill="#3f4350" text-anchor="middle">2025</text>
<text x="1248.5" y="520" font-size="16" font-weight="700" fill="#3f4350" text-anchor="middle">Jul</text>
<text x="1461.5" y="520" font-size="16" font-weight="700" fill="#3f4350" text-anchor="middle">2026</text>
<text x="1674.5" y="520" font-size="16" font-weight="700" fill="#3f4350" text-anchor="middle">Jul</text>
<rect x="1657" y="191.3" width="148" height="22.4" rx="3" ry="3" fill="#f23645"/>
<line x1="1727.5" y1="191.3" x2="1727.5" y2="213.7" stroke="#b02a38" stroke-width="1.2"/>
<text x="1663.2" y="208.3" font-size="16" fill="#fff" stroke="#fff" stroke-width="0.5" textLength="58" lengthAdjust="spacingAndGlyphs">ADAUSD</text>
<text x="1740.3" y="208.3" font-size="16" font-weight="700" fill="#fff" textLength="57.5" lengthAdjust="spacingAndGlyphs">0.65021</text>
<rect x="1733.1" y="25.1" width="71.4" height="37.1" rx="6" ry="6" fill="#fff" stroke="#ebebeb" stroke-width="1.2"/>
<text x="1738.4" y="49.7" font-size="17.3" fill="#0d0d0d" textLength="30.8" lengthAdjust="spacingAndGlyphs">USD</text>
<circle cx="1653.6" cy="274.3" r="37.4" fill="#fff" filter="url(#sh)"/>
<polygon points="1647.4,263.4 1664.2,274.3 1647.4,285.2" fill="#3667ff" stroke="#3667ff" stroke-width="2.8" stroke-linejoin="round"/>
<circle cx="38.5" cy="43.4" r="13.4" fill="#2666d4"/>
<circle cx="41.70" cy="43.40" r="0.95" fill="#fff" fill-opacity="1"/>
<circle cx="40.10" cy="46.17" r="0.95" fill="#fff" fill-opacity="1"/>
<circle cx="36.90" cy="46.17" r="0.95" fill="#fff" fill-opacity="1"/>
<circle cx="35.30" cy="43.40" r="0.95" fill="#fff" fill-opacity="1"/>
<circle cx="36.90" cy="40.63" r="0.95" fill="#fff" fill-opacity="1"/>
<circle cx="40.10" cy="40.63" r="0.95" fill="#fff" fill-opacity="1"/>
<circle cx="42.40" cy="45.65" r="0.65" fill="#fff" fill-opacity="1"/>
<circle cx="38.50" cy="47.90" r="0.65" fill="#fff" fill-opacity="1"/>
<circle cx="34.60" cy="45.65" r="0.65" fill="#fff" fill-opacity="1"/>
<circle cx="34.60" cy="41.15" r="0.65" fill="#fff" fill-opacity="1"/>
<circle cx="38.50" cy="38.90" r="0.65" fill="#fff" fill-opacity="1"/>
<circle cx="42.40" cy="41.15" r="0.65" fill="#fff" fill-opacity="1"/>
<circle cx="44.40" cy="43.40" r="0.6" fill="#fff" fill-opacity="1"/>
<circle cx="41.45" cy="48.51" r="0.6" fill="#fff" fill-opacity="1"/>
<circle cx="35.55" cy="48.51" r="0.6" fill="#fff" fill-opacity="1"/>
<circle cx="32.60" cy="43.40" r="0.6" fill="#fff" fill-opacity="1"/>
<circle cx="35.55" cy="38.29" r="0.6" fill="#fff" fill-opacity="1"/>
<circle cx="41.45" cy="38.29" r="0.6" fill="#fff" fill-opacity="1"/>
<circle cx="44.91" cy="47.10" r="0.5" fill="#fff" fill-opacity="0.85"/>
<circle cx="38.50" cy="50.80" r="0.5" fill="#fff" fill-opacity="0.85"/>
<circle cx="32.09" cy="47.10" r="0.5" fill="#fff" fill-opacity="0.85"/>
<circle cx="32.09" cy="39.70" r="0.5" fill="#fff" fill-opacity="0.85"/>
<circle cx="38.50" cy="36.00" r="0.5" fill="#fff" fill-opacity="0.85"/>
<circle cx="44.91" cy="39.70" r="0.5" fill="#fff" fill-opacity="0.85"/>
<circle cx="46.60" cy="43.40" r="0.45" fill="#fff" fill-opacity="0.6"/>
<circle cx="42.55" cy="50.41" r="0.45" fill="#fff" fill-opacity="0.6"/>
<circle cx="34.45" cy="50.41" r="0.45" fill="#fff" fill-opacity="0.6"/>
<circle cx="30.40" cy="43.40" r="0.45" fill="#fff" fill-opacity="0.6"/>
<circle cx="34.45" cy="36.39" r="0.45" fill="#fff" fill-opacity="0.6"/>
<circle cx="42.55" cy="36.39" r="0.45" fill="#fff" fill-opacity="0.6"/>
<text x="58.2" y="52.1" font-size="23.3" font-weight="400" fill="#434651" textLength="87.3" lengthAdjust="spacingAndGlyphs">Cardano</text>
<text x="165.2" y="52.1" font-size="23.3" font-weight="400" fill="#434651" textLength="30.8" lengthAdjust="spacingAndGlyphs">1W</text>
<text x="215.6" y="52.1" font-size="23.3" font-weight="400" fill="#434651" textLength="81.8" lengthAdjust="spacingAndGlyphs">CRYPTO</text>
<circle cx="155" cy="45.3" r="2" fill="#434651"/><circle cx="206.4" cy="45.3" r="2" fill="#434651"/>
<text x="310.3" y="50.5" font-size="18.4" font-weight="400" fill="#434651" textLength="12" lengthAdjust="spacingAndGlyphs">O</text>
<text x="325" y="50.5" font-size="18.4" font-weight="400" fill="#f23645" textLength="67.4" lengthAdjust="spacingAndGlyphs">0.68139</text>
<text x="402.6" y="50.5" font-size="18.4" font-weight="400" fill="#434651" textLength="11.2" lengthAdjust="spacingAndGlyphs">H</text>
<text x="417" y="50.5" font-size="18.4" font-weight="400" fill="#f23645" textLength="67" lengthAdjust="spacingAndGlyphs">0.69362</text>
<text x="494.8" y="50.5" font-size="18.4" font-weight="400" fill="#434651" textLength="8.8" lengthAdjust="spacingAndGlyphs">L</text>
<text x="506" y="50.5" font-size="18.4" font-weight="400" fill="#f23645" textLength="66.8" lengthAdjust="spacingAndGlyphs">0.63655</text>
<text x="583.6" y="50.5" font-size="18.4" font-weight="400" fill="#434651" textLength="10" lengthAdjust="spacingAndGlyphs">C</text>
<text x="595.8" y="50.5" font-size="18.4" font-weight="400" fill="#f23645" textLength="66.8" lengthAdjust="spacingAndGlyphs">0.65021</text>
<text x="674.5" y="50.5" font-size="18.4" font-weight="400" fill="#f23645" textLength="75.5" lengthAdjust="spacingAndGlyphs">−0.03121</text>
<text x="759.5" y="50.5" font-size="18.4" font-weight="400" fill="#f23645" textLength="72.1" lengthAdjust="spacingAndGlyphs">(−4.58%)</text>
<rect x="24.4" y="66.3" width="46.3" height="29" rx="4" ry="4" fill="#fff" stroke="#e0e3eb" stroke-width="1.2"/>
<path d="M33.2,78.4 L39,83.6 L44.8,78.4" stroke="#131722" stroke-width="1.7" fill="none"/>
<text x="53.7" y="87.3" font-size="17" fill="#131722">2</text>
<g stroke="#fff" stroke-width="6" stroke-linejoin="round" fill="#fff">
<path d="M29.6,453.4 H48.9 V475.3 H38.1 V462.6 H29.6 Z"/><circle cx="55" cy="457.6" r="4.2"/><path d="M63,453.4 H74.8 L67.3,475.3 H56 Z"/>
<text x="85.4" y="475.6" font-size="30.1" font-weight="700" textLength="181.5" lengthAdjust="spacingAndGlyphs">TradingView</text>
</g>
<g fill="#111">
<path d="M29.6,453.4 H48.9 V475.3 H38.1 V462.6 H29.6 Z"/><circle cx="55" cy="457.6" r="4.2"/><path d="M63,453.4 H74.8 L67.3,475.3 H56 Z"/>
<text x="85.4" y="475.6" font-size="30.1" font-weight="700" textLength="181.5" lengthAdjust="spacingAndGlyphs">TradingView</text>
</g>
</g>
<rect x="11.6" y="18.6" width="1799.8000000000002" height="516.4" rx="9" ry="9" fill="none" stroke="#ebebeb" stroke-width="1.3"/>
<text x="1462" y="557.8" font-size="27.5" fill="#bdbdbd" textLength="233" lengthAdjust="spacingAndGlyphs">Activate Windows</text>
</svg>
</body></html>
